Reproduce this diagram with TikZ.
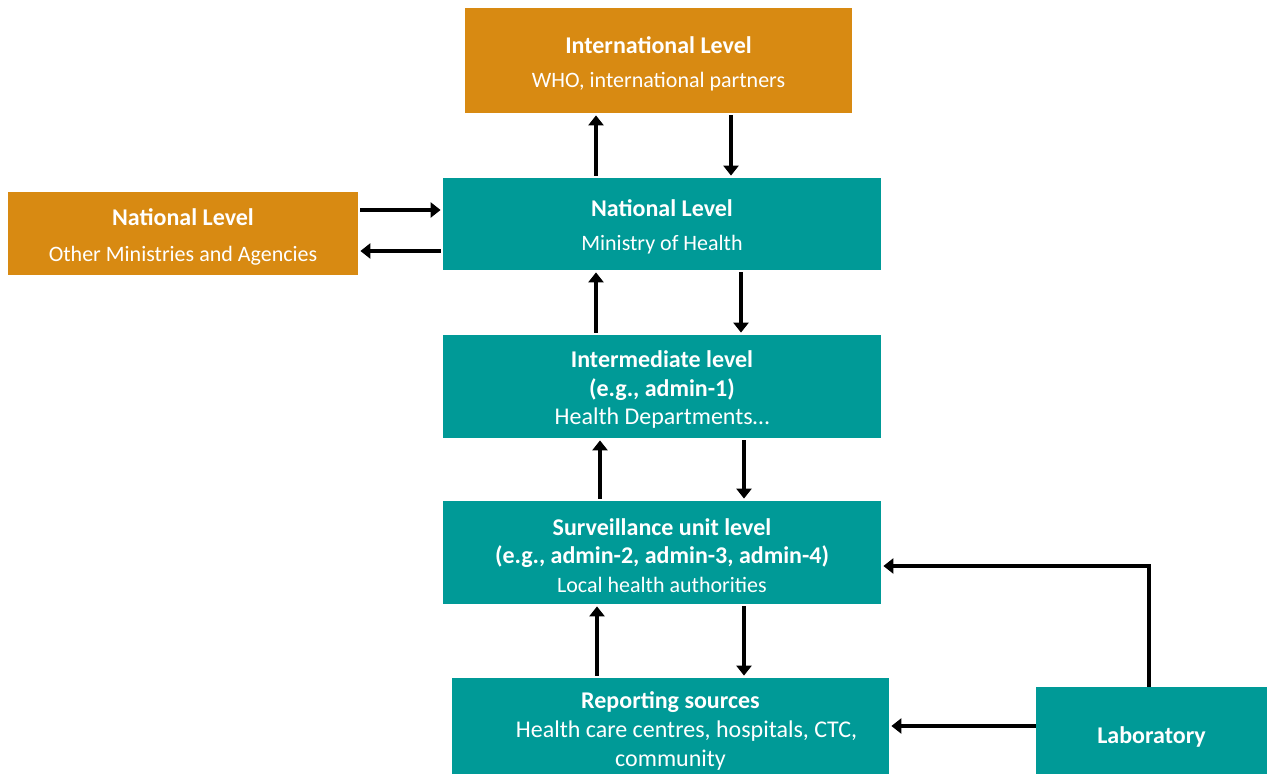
\documentclass[tikz,border=0pt]{standalone}
\usepackage{fontspec}
\setmainfont{Carlito}
\usetikzlibrary{arrows.meta}
\definecolor{whoorange}{HTML}{D88A12}
\definecolor{mohteal}{HTML}{009A97}
\newcommand{\sublabel}[1]{{\fontsize{11}{14.4}\selectfont #1}}
\newcommand{\headline}[1]{\rule{0pt}{11.5pt}\textbf{#1}}
\begin{document}
\begin{tikzpicture}[x=0.5pt,y=-0.5pt,
    level/.style={fill=mohteal,text=white,inner sep=0pt,align=center,
      font=\fontsize{12}{14.4}\selectfont},
    partner/.style={level,fill=whoorange},
    flow/.style={-{Triangle[length=5pt,width=7.5pt]},line width=1.7pt,
      shorten >=1pt,shorten <=1pt}]
  \useasboundingbox (0,0) rectangle (1270,774);

  \node (intl) [partner,minimum width=193.5pt,minimum height=52.5pt] at (658.5,60.5)
    {\headline{International Level}\\[2.6pt]\sublabel{WHO, international partners}};
  \node (natother) [partner,minimum width=175pt,minimum height=41.5pt] at (183,233.5)
    {\headline{National Level}\\[3.6pt]\sublabel{Other Ministries and Agencies}};
  \node (nat) [level,minimum width=219pt,minimum height=46pt] at (662,224)
    {\headline{National Level}\\[2.6pt]\sublabel{Ministry of Health}};
  \node (inter) [level,minimum width=219pt,minimum height=51.5pt] at (662,386.5)
    {\headline{Intermediate level}\\\textbf{(e.g., admin-1)}\\Health Departments\dots};
  \node (surv) [level,minimum width=219pt,minimum height=51.5pt] at (662,552.5)
    {\headline{Surveillance unit level}\\\textbf{(e.g., admin-2, admin-3, admin-4)}\\\sublabel{Local health authorities}};
  \node (rep) [level,minimum width=218.5pt,minimum height=50pt] at (670.5,728)
    {\headline{Reporting sources}\\\hspace*{16pt}Health care centres, hospitals, CTC,\\community};
  \node (lab) [level,minimum width=115.5pt,minimum height=47pt] at (1151.5,734)
    {\headline{Laboratory}};

  \draw[flow] ([xshift=-33pt]nat.north) -- ([xshift=-31.25pt]intl.south);
  \draw[flow] ([xshift=36.25pt]intl.south) -- ([xshift=34.5pt]nat.north);
  \draw[flow] ([yshift=11.75pt]natother.east) -- ([yshift=7pt]nat.west);
  \draw[flow] ([yshift=-13.5pt]nat.west) -- ([yshift=-8.75pt]natother.east);
  \draw[flow] ([xshift=-33pt]inter.north) -- ([xshift=-33pt]nat.south);
  \draw[flow] ([xshift=39.5pt]nat.south) -- ([xshift=39.5pt]inter.north);
  \draw[flow] ([xshift=-31pt]surv.north) -- ([xshift=-31pt]inter.south);
  \draw[flow] ([xshift=41pt]inter.south) -- ([xshift=41pt]surv.north);
  \draw[flow] ([xshift=-36.75pt]rep.north) -- ([xshift=-32.5pt]surv.south);
  \draw[flow] ([xshift=41pt]surv.south) -- ([xshift=36.75pt]rep.north);
  \draw[flow,shorten <=0pt] ([xshift=-1.25pt]lab.north) |- ([yshift=-6.75pt]surv.east);
  \draw[flow,shorten <=0pt] ([yshift=4pt]lab.west) -- ([yshift=1pt]rep.east);
\end{tikzpicture}
\end{document}
